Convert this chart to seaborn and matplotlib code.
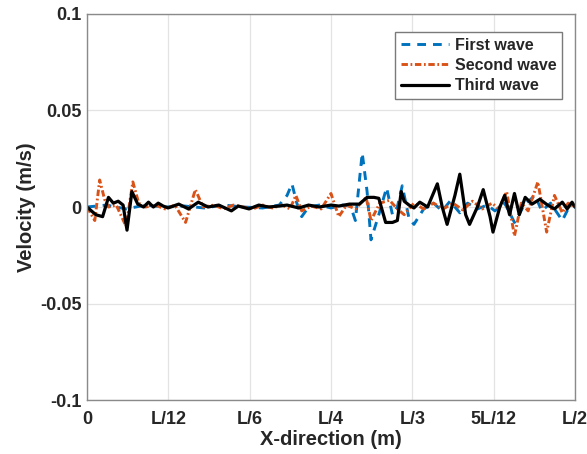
import numpy as np
import pandas as pd
import matplotlib
matplotlib.use("Agg")
import matplotlib.pyplot as plt
import seaborn as sns

# ---- data (x in units of L, velocity in m/s) ----
x_first = [0, 0.02, 0.04, 0.06, 0.08, 0.10, 0.12, 0.14, 0.16, 0.18, 0.197, 0.205,
           0.210, 0.215, 0.220, 0.227, 0.238, 0.250, 0.262, 0.270, 0.275, 0.282,
           0.287, 0.291, 0.299, 0.307, 0.313, 0.318, 0.323, 0.330, 0.335, 0.345,
           0.355, 0.364, 0.372, 0.382, 0.390, 0.400, 0.410, 0.418, 0.428, 0.438,
           0.448, 0.459, 0.466, 0.475, 0.487, 0.493, 0.500]
v_first = [0, 0.001, -0.001, 0.001, 0, 0.0005, -0.0005, 0.001, 0, -0.0005, 0.001, 0.006,
           0.012, 0.002, -0.005, 0, 0.001, -0.0005, 0.001, 0.0005, -0.007, 0.028,
           0.008, -0.017, -0.004, 0.010, -0.004, 0, 0.011, -0.006, -0.009, -0.001,
           0.002, -0.002, 0.003, -0.003, 0.002, -0.001, 0.001, -0.002, 0.002, -0.008,
           0.001, 0.006, -0.002, 0.002, -0.007, -0.001, 0]

x_second = [0, 0.008, 0.013, 0.018, 0.022, 0.030, 0.040, 0.047, 0.053, 0.060, 0.070,
            0.080, 0.090, 0.101, 0.111, 0.119, 0.130, 0.140, 0.150, 0.160, 0.170,
            0.180, 0.190, 0.200, 0.208, 0.214, 0.220, 0.230, 0.240, 0.250, 0.258,
            0.266, 0.275, 0.286, 0.291, 0.300, 0.310, 0.318, 0.325, 0.335, 0.345,
            0.355, 0.365, 0.375, 0.385, 0.395, 0.405, 0.415, 0.422, 0.430, 0.438,
            0.445, 0.452, 0.462, 0.471, 0.479, 0.487, 0.493, 0.500]
v_second = [0, -0.007, 0.014, 0.004, 0, 0.001, -0.010, 0.013, 0.002, 0, 0.001,
            -0.001, 0.001, -0.008, 0.009, 0.0, 0.001, -0.001, 0.001, 0, -0.001,
            0.001, -0.0005, 0.001, -0.001, 0.006, -0.002, 0.0005, -0.001, 0.007, -0.005,
            0.001, -0.001, 0.005, -0.007, 0.002, 0.0035, -0.001, -0.004, 0.002, -0.001,
            0.002, -0.001, 0.002, -0.0015, 0.003, -0.001, 0.002, -0.001, 0.008, -0.015,
            0.002, -0.002, 0.013, -0.013, 0.006, -0.003, 0.002, 0]

x_third = [0, 0.009, 0.016, 0.022, 0.027, 0.032, 0.037, 0.041, 0.046, 0.052, 0.058,
           0.063, 0.068, 0.073, 0.078, 0.083, 0.094, 0.104, 0.114, 0.124, 0.135,
           0.148, 0.155, 0.166, 0.176, 0.186, 0.197, 0.205, 0.217, 0.227, 0.238,
           0.250, 0.258, 0.269, 0.279, 0.287, 0.294, 0.299, 0.306, 0.313, 0.318,
           0.322, 0.325, 0.330, 0.335, 0.341, 0.349, 0.359, 0.364, 0.369, 0.377,
           0.382, 0.388, 0.392, 0.400, 0.406, 0.413, 0.416, 0.423, 0.428, 0.433,
           0.438, 0.443, 0.449, 0.456, 0.464, 0.472, 0.479, 0.487, 0.492, 0.497, 0.500]
v_third = [0, -0.004, -0.005, 0.005, 0.002, 0.003, 0.001, -0.012, 0.008, 0.0015, 0,
           0.0025, 0, 0.002, 0.0005, -0.0005, 0.0015, -0.001, 0.0025, 0, 0.001,
           -0.002, 0.0005, -0.001, 0.001, 0, 0.0005, 0.001, -0.0005, 0.001, 0,
           0.001, 0.0005, 0.0015, 0.0015, 0.005, 0.005, 0.0045, -0.008, -0.008, -0.007,
           0.008, 0.003, 0.001, -0.0005, 0.0025, 0, 0.012, 0, -0.009, 0.006,
           0.017, -0.004, -0.009, 0, 0.009, -0.005, -0.013, 0, 0.006, -0.004,
           0.007, -0.004, 0.005, 0.0015, 0.004, 0.001, -0.001, 0.0025, -0.001, 0.0025, 0]

series_names = ["First wave", "Second wave", "Third wave"]
x_ticks = [0, 1/12, 1/6, 1/4, 1/3, 5/12, 1/2]
x_ticklabels = ["0", "L/12", "L/6", "L/4", "L/3", "5L/12", "L/2"]
y_ticks = [-0.1, -0.05, 0, 0.05, 0.1]
y_ticklabels = ["-0.1", "-0.05", "0", "0.05", "0.1"]

# ---- style ----
sns.set_theme(style="white")
plt.rcParams["font.family"] = ["Liberation Sans", "DejaVu Sans"]
plt.rcParams["font.weight"] = "bold"

fig = plt.figure(figsize=(5.87, 4.54), dpi=100)
ax = fig.add_axes([0.1482, 0.1189, 0.8313, 0.8503])

df1 = pd.DataFrame({"x": x_first, "v": v_first})
df2 = pd.DataFrame({"x": x_second, "v": v_second})
df3 = pd.DataFrame({"x": x_third, "v": v_third})

sns.lineplot(data=df1, x="x", y="v", ax=ax, color="#0072BD", lw=2.1,
             linestyle=(0, (3, 2.4)), label=series_names[0], sort=False)
sns.lineplot(data=df2, x="x", y="v", ax=ax, color="#D95319", lw=2.1,
             linestyle=(0, (2.2, 0.9, 0.6, 0.9)), label=series_names[1], sort=False)
sns.lineplot(data=df3, x="x", y="v", ax=ax, color="black", lw=2.3,
             linestyle="-", label=series_names[2], sort=False)

ax.set_xlim(0, 0.5)
ax.set_ylim(-0.1, 0.1)
ax.set_xticks(x_ticks)
ax.set_xticklabels(x_ticklabels)
ax.set_yticks(y_ticks)
ax.set_yticklabels(y_ticklabels)

ax.grid(True, color="#e3e3e3", lw=0.9)
ax.set_axisbelow(True)
for s in ax.spines.values():
    s.set_visible(True)
    s.set_color("#8a8a8a")
    s.set_linewidth(1.0)

ax.tick_params(axis="both", direction="in", length=4, width=0.8, color="#8a8a8a",
               labelsize=13, labelcolor="#262626")
ax.tick_params(axis="x", pad=8)
ax.tick_params(axis="y", pad=4)
for lbl in ax.get_xticklabels() + ax.get_yticklabels():
    lbl.set_fontweight("bold")

ax.set_xlabel("X-direction (m)", fontsize=14.5, fontweight="bold", color="#262626", labelpad=1)
ax.set_ylabel("Velocity (m/s)", fontsize=14.5, fontweight="bold", color="#262626", labelpad=3)

leg = ax.legend(loc="upper right", bbox_to_anchor=(0.974, 0.953), fontsize=11.5,
                frameon=True, fancybox=False, framealpha=1, edgecolor="#7a7a7a",
                handlelength=3.0, handletextpad=0.4, borderpad=0.35, labelspacing=0.33,
                borderaxespad=0)
leg.get_frame().set_linewidth(1.0)
for t in leg.get_texts():
    t.set_fontweight("bold")
    t.set_color("#262626")

fig.savefig("out.png", dpi=100)
